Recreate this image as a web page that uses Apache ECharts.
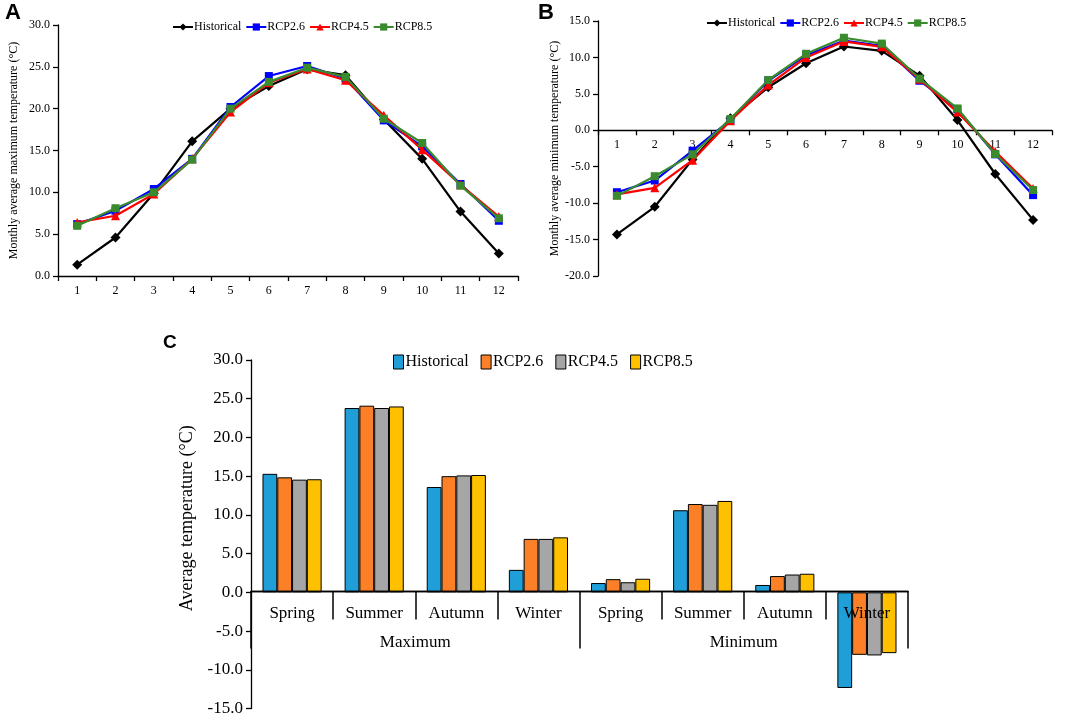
<!DOCTYPE html>
<html>
<head>
<meta charset="utf-8">
<script src="https://cdn.jsdelivr.net/npm/echarts@6/dist/echarts.min.js"></script>
<style>
html,body{margin:0;padding:0;background:#fff;}
#chart{width:1079px;height:717px;}
</style>
</head>
<body>
<div id="chart"></div>
<script>
// ---- Data ----
const months = ['1','2','3','4','5','6','7','8','9','10','11','12'];
const seriesNames = ['Historical','RCP2.6','RCP4.5','RCP8.5'];

// Panel A: monthly average maximum temperature
const maxHistorical = [1.35, 4.6, 9.9, 16.1, 20.0, 22.7, 24.7, 24.0, 18.7, 14.0, 7.7, 2.7];
const maxRCP26     = [6.2, 7.8, 10.4, 14.0, 20.2, 23.9, 25.1, 23.6, 18.6, 15.5, 11.0, 6.6];
const maxRCP45     = [6.4, 7.2, 9.8, 14.0, 19.6, 23.1, 24.75, 23.4, 19.2, 15.1, 10.9, 7.1];
const maxRCP85     = [6.0, 8.1, 10.0, 13.9, 20.0, 23.2, 24.9, 23.8, 18.8, 15.9, 10.8, 6.9];

// Panel B: monthly average minimum temperature
const minHistorical = [-14.3, -10.5, -4.0, 1.65, 5.9, 9.2, 11.5, 10.9, 7.5, 1.4, -6.0, -12.3];
const minRCP26     = [-8.5, -6.9, -2.8, 1.4, 6.8, 10.3, 12.3, 11.6, 6.8, 2.9, -3.3, -8.9];
const minRCP45     = [-8.8, -7.9, -4.1, 1.3, 6.2, 10.0, 12.2, 11.45, 7.0, 2.5, -2.9, -8.0];
const minRCP85     = [-9.0, -6.3, -3.3, 1.55, 6.9, 10.5, 12.7, 11.9, 7.1, 3.0, -3.25, -8.2];

// Panel C: seasonal averages
const seasons = ['Spring','Summer','Autumn','Winter','Spring','Summer','Autumn','Winter'];
const groups = ['Maximum','Minimum'];
const seasonHistorical = [15.3, 23.8, 13.6, 2.9, 1.2, 10.6, 0.95, -12.35];
const seasonRCP26     = [14.85, 24.1, 15.0, 6.9, 1.7, 11.4, 2.1, -8.07];
const seasonRCP45     = [14.55, 23.8, 15.1, 6.9, 1.3, 11.3, 2.3, -8.15];
const seasonRCP85     = [14.6, 24.0, 15.15, 7.1, 1.75, 11.8, 2.4, -7.85];

// ---- Styles / layout ----
const serif = '"Liberation Serif","Times New Roman",serif';
const sans = '"Liberation Sans",Arial,sans-serif';
const lineColors = ['#000000','#0000ff','#ff0000','#3a8a2e'];
const lineSymbols = ['diamond','rect','triangle','rect'];
const barColors = ['#1f9ed8','#fb8027','#a6a6a6','#ffc000'];

const gridA = {left: 58, top: 25, width: 460, height: 251};
const gridB = {left: 598, top: 21, width: 454, height: 255};
const gridC = {left: 251, top: 360, width: 657, height: 351};
const rangeB = [-20, 15];
const rangeC = [-15, 30];
// distance from grid bottom up to the zero line (axis placement)
const zeroOffsetB = gridB.height * (0 - rangeB[0]) / (rangeB[1] - rangeB[0]);
const zeroOffsetC = gridC.height * (0 - rangeC[0]) / (rangeC[1] - rangeC[0]);

const chart = echarts.init(document.getElementById('chart'), null, {renderer:'canvas'});
const fmt1 = v => v.toFixed(1);

function lineSeries(name, data, idx, axisIdx) {
  return {
    name: name, type: 'line', data: data,
    xAxisIndex: axisIdx, yAxisIndex: axisIdx,
    symbol: lineSymbols[idx], symbolSize: idx === 0 ? 10 : (idx === 2 ? 9 : 8),
    lineStyle: {color: lineColors[idx], width: 2.2},
    itemStyle: {color: lineColors[idx]},
    z: 2 + idx
  };
}
function barSeries(name, data, idx) {
  return {
    name: name, type: 'bar', data: data,
    xAxisIndex: 2, yAxisIndex: 2,
    barGap: '0%', barCategoryGap: '28%',
    itemStyle: {color: barColors[idx], borderColor: '#000', borderWidth: 1},
    z: 2
  };
}

const catAxisBase = {
  type: 'category', boundaryGap: true, position: 'bottom',
  axisLine: {onZero: false, lineStyle: {color: '#000', width: 1.3}},
  axisTick: {show: true, length: 5, lineStyle: {color: '#000', width: 1.3}},
  axisLabel: {color: '#000', fontFamily: serif, fontSize: 12, margin: 9, interval: 0},
  splitLine: {show: false}
};
const valAxisBase = {
  type: 'value',
  axisLine: {show: true, lineStyle: {color: '#000', width: 1.3}},
  axisTick: {show: true, length: 5, lineStyle: {color: '#000', width: 1.3}},
  axisLabel: {color: '#000', fontFamily: serif, fontSize: 12, formatter: fmt1, margin: 8},
  splitLine: {show: false},
  nameLocation: 'middle',
  nameTextStyle: {color: '#000', fontFamily: serif, fontSize: 12}
};
const lineLegendBase = {
  itemWidth: 20, itemHeight: 9, itemGap: 4,
  textStyle: {fontFamily: serif, fontSize: 12, color: '#000', padding: [0,0,0,-4]},
  selectedMode: false
};

const option = {
  backgroundColor: '#fff',
  animation: false,
  title: [
    {text: 'A', left: 0, top: -3, textStyle: {fontFamily: sans, fontWeight: 'bold', fontSize: 22, color: '#000'}},
    {text: 'B', left: 533, top: -3, textStyle: {fontFamily: sans, fontWeight: 'bold', fontSize: 22, color: '#000'}},
    {text: 'C', left: 158, top: 328, textStyle: {fontFamily: sans, fontWeight: 'bold', fontSize: 19, color: '#000'}}
  ],
  legend: [
    Object.assign({}, lineLegendBase, {data: seriesNames.slice(), left: 167, top: 16}),
    Object.assign({}, lineLegendBase, {data: seriesNames.slice(), left: 701, top: 12}),
    {
      data: seriesNames.map((n, i) => ({name: n, icon: 'rect',
        itemStyle: {color: barColors[i], borderColor: '#000', borderWidth: 1}})),
      left: 388, top: 349, itemWidth: 10, itemHeight: 14, itemGap: 12,
      textStyle: {fontFamily: serif, fontSize: 16, color: '#000', padding: [0,0,0,-3]},
      selectedMode: false
    }
  ],
  grid: [gridA, gridB, gridC],
  xAxis: [
    Object.assign({}, catAxisBase, {gridIndex: 0, data: months}),
    Object.assign({}, catAxisBase, {gridIndex: 1, data: months, offset: -zeroOffsetB}),
    {
      type: 'category', gridIndex: 2, data: seasons, position: 'bottom', boundaryGap: true,
      offset: -zeroOffsetC,
      axisLine: {onZero: false, lineStyle: {color: '#000', width: 1.3}},
      axisTick: {show: true, length: 28, lineStyle: {color: '#000', width: 1.5}},
      axisLabel: {color: '#000', fontFamily: serif, fontSize: 17, margin: 14, interval: 0},
      splitLine: {show: false}, z: 10
    },
    {
      type: 'category', gridIndex: 2, data: groups, position: 'bottom', boundaryGap: true,
      offset: -zeroOffsetC,
      axisLine: {onZero: false, lineStyle: {color: '#000', width: 1.3}},
      axisTick: {show: true, length: 57, lineStyle: {color: '#000', width: 1.5}},
      axisLabel: {color: '#000', fontFamily: serif, fontSize: 17, margin: 43, interval: 0},
      splitLine: {show: false}, z: 10
    }
  ],
  yAxis: [
    Object.assign({}, valAxisBase, {gridIndex: 0, min: 0, max: 30, interval: 5,
      name: 'Monthly average maximum temperature (°C)', nameGap: 38}),
    Object.assign({}, valAxisBase, {gridIndex: 1, min: rangeB[0], max: rangeB[1], interval: 5,
      name: 'Monthly average minimum temperature (°C)', nameGap: 36}),
    Object.assign({}, valAxisBase, {gridIndex: 2, min: rangeC[0], max: rangeC[1], interval: 5,
      name: 'Average temperature (°C)', nameGap: 50,
      axisLabel: {color: '#000', fontFamily: serif, fontSize: 17, formatter: fmt1, margin: 8},
      nameTextStyle: {color: '#000', fontFamily: serif, fontSize: 18, padding: [0, 0, 0, 32]}})
  ],
  series: [
    lineSeries('Historical', maxHistorical, 0, 0),
    lineSeries('RCP2.6', maxRCP26, 1, 0),
    lineSeries('RCP4.5', maxRCP45, 2, 0),
    lineSeries('RCP8.5', maxRCP85, 3, 0),
    lineSeries('Historical', minHistorical, 0, 1),
    lineSeries('RCP2.6', minRCP26, 1, 1),
    lineSeries('RCP4.5', minRCP45, 2, 1),
    lineSeries('RCP8.5', minRCP85, 3, 1),
    barSeries('Historical', seasonHistorical, 0),
    barSeries('RCP2.6', seasonRCP26, 1),
    barSeries('RCP4.5', seasonRCP45, 2),
    barSeries('RCP8.5', seasonRCP85, 3)
  ]
};
chart.setOption(option);
</script>
</body>
</html>
